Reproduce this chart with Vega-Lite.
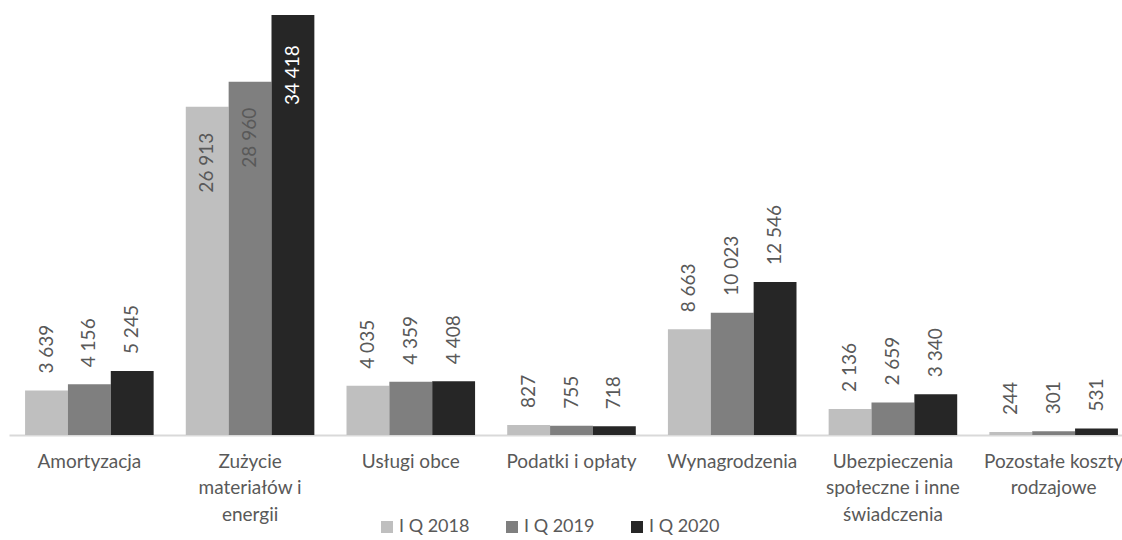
{
  "$schema": "https://vega.github.io/schema/vega-lite/v6.json",
  "autosize": "none",
  "width": 1125,
  "height": 427,
  "padding": {"left": 9, "top": 8, "right": 0, "bottom": 105},
  "background": "white",
  "config": {"view": {"stroke": null}, "font": "Lato"},
  "data": {"values": [
    {"cat": "Amortyzacja", "series": "I Q 2018", "value": 3639},
    {"cat": "Amortyzacja", "series": "I Q 2019", "value": 4156},
    {"cat": "Amortyzacja", "series": "I Q 2020", "value": 5245},
    {"cat": "Zużycie|materiałów i|energii", "series": "I Q 2018", "value": 26913},
    {"cat": "Zużycie|materiałów i|energii", "series": "I Q 2019", "value": 28960},
    {"cat": "Zużycie|materiałów i|energii", "series": "I Q 2020", "value": 34418},
    {"cat": "Usługi obce", "series": "I Q 2018", "value": 4035},
    {"cat": "Usługi obce", "series": "I Q 2019", "value": 4359},
    {"cat": "Usługi obce", "series": "I Q 2020", "value": 4408},
    {"cat": "Podatki i opłaty", "series": "I Q 2018", "value": 827},
    {"cat": "Podatki i opłaty", "series": "I Q 2019", "value": 755},
    {"cat": "Podatki i opłaty", "series": "I Q 2020", "value": 718},
    {"cat": "Wynagrodzenia", "series": "I Q 2018", "value": 8663},
    {"cat": "Wynagrodzenia", "series": "I Q 2019", "value": 10023},
    {"cat": "Wynagrodzenia", "series": "I Q 2020", "value": 12546},
    {"cat": "Ubezpieczenia|społeczne i inne|świadczenia", "series": "I Q 2018", "value": 2136},
    {"cat": "Ubezpieczenia|społeczne i inne|świadczenia", "series": "I Q 2019", "value": 2659},
    {"cat": "Ubezpieczenia|społeczne i inne|świadczenia", "series": "I Q 2020", "value": 3340},
    {"cat": "Pozostałe koszty|rodzajowe", "series": "I Q 2018", "value": 244},
    {"cat": "Pozostałe koszty|rodzajowe", "series": "I Q 2019", "value": 301},
    {"cat": "Pozostałe koszty|rodzajowe", "series": "I Q 2020", "value": 531}
  ]},
  "transform": [
    {"calculate": "replace(format(datum.value, ','), ',', ' ')", "as": "label"}
  ],
  "encoding": {
    "x": {
      "field": "cat", "type": "nominal", "sort": null, "title": null,
      "scale": {"paddingInner": 0.2, "paddingOuter": 0.1},
      "axis": {
        "labelAngle": 0, "labelExpr": "split(datum.label, '|')",
        "labelFontSize": 19, "labelColor": "#595959", "labelLineHeight": 26.5,
        "labelPadding": 17, "ticks": false, "grid": false,
        "domainColor": "#d9d9d9", "domainWidth": 2, "labelBaseline": "top"
      }
    },
    "xOffset": {"field": "series", "type": "nominal", "scale": {"paddingInner": 0, "paddingOuter": 0}},
    "y": {"field": "value", "type": "quantitative", "scale": {"domain": [0, 35000], "nice": false}, "axis": null}
  },
  "layer": [
    {
      "mark": {"type": "bar"},
      "encoding": {
        "color": {
          "field": "series", "type": "nominal",
          "scale": {"domain": ["I Q 2018", "I Q 2019", "I Q 2020"], "range": ["#bfbfbf", "#7f7f7f", "#262626"]},
          "legend": {
            "title": null, "orient": "none", "direction": "horizontal",
            "legendX": 369, "legendY": 510,
            "symbolType": "square", "symbolSize": 144, "symbolStrokeWidth": 0,
            "labelFontSize": 18, "labelColor": "#595959", "columnPadding": 33, "labelOffset": 3
          }
        }
      }
    },
    {
      "transform": [{"filter": "datum.value < 20000"}],
      "mark": {"type": "text", "angle": 270, "align": "left", "baseline": "middle", "dx": 17, "fontSize": 19, "color": "#595959"},
      "encoding": {"text": {"field": "label"}}
    },
    {
      "transform": [{"filter": "datum.value >= 20000 && datum.series != 'I Q 2020'"}],
      "mark": {"type": "text", "angle": 270, "align": "right", "baseline": "middle", "dx": -26, "fontSize": 19, "color": "#595959"},
      "encoding": {"text": {"field": "label"}}
    },
    {
      "transform": [{"filter": "datum.value >= 20000 && datum.series == 'I Q 2020'"}],
      "mark": {"type": "text", "angle": 270, "align": "right", "baseline": "middle", "dx": -30, "fontSize": 19, "color": "#ffffff"},
      "encoding": {"text": {"field": "label"}}
    }
  ]
}
